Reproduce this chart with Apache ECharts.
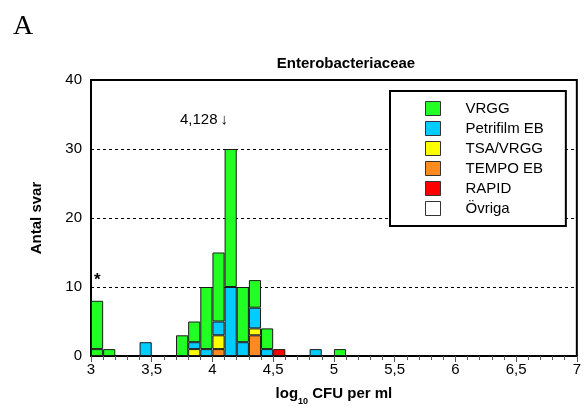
<!DOCTYPE html>
<html>
<head>
<meta charset="utf-8">
<script src="https://cdn.jsdelivr.net/npm/echarts@6/dist/echarts.min.js"></script>
<style>
  html, body { margin: 0; padding: 0; background: #fff; }
  #chart { width: 584px; height: 414px; }
</style>
</head>
<body>
<div id="chart"></div>
<script>
// bins of 0.1 log10 CFU, start value of each bin
const bins = [
  '3.0', '3.1', '3.2', '3.3', '3.4', '3.5', '3.6', '3.7', '3.8', '3.9',
  '4.0', '4.1', '4.2', '4.3', '4.4', '4.5', '4.6', '4.7', '4.8', '4.9',
  '5.0', '5.1', '5.2', '5.3', '5.4', '5.5', '5.6', '5.7', '5.8', '5.9',
  '6.0', '6.1', '6.2', '6.3', '6.4', '6.5', '6.6', '6.7', '6.8', '6.9'
];

// counts per bin (bins after 5.0 are empty)
const rapid     = [0, 0, 0, 0, 0, 0, 0, 0, 0, 0, 0, 0, 0, 0, 0, 1, 0, 0, 0, 0, 0];
const tempoEb   = [0, 0, 0, 0, 0, 0, 0, 0, 0, 0, 1, 0, 0, 3, 0, 0, 0, 0, 0, 0, 0];
const tsaVrgg   = [0, 0, 0, 0, 0, 0, 0, 0, 1, 0, 2, 0, 0, 1, 0, 0, 0, 0, 0, 0, 0];
const petrifilm = [0, 0, 0, 0, 2, 0, 0, 0, 1, 1, 2, 10, 2, 3, 1, 0, 0, 0, 1, 0, 0];
const vrgg      = [1, 1, 0, 0, 0, 0, 0, 3, 3, 9, 10, 20, 8, 4, 3, 0, 0, 0, 0, 0, 1];
const vrggLow   = [7];   // results below 3 (*), plotted in first bin
const ovriga    = [];

const yTicks = [0, 10, 20, 30, 40];
const peakNote = '4,128\u2009\u2193';

const font = 'Arial, "Liberation Sans", sans-serif';
const chart = echarts.init(document.getElementById('chart'));

const nz = arr => arr.map(v => (v ? v : null));

const barSeries = (name, data, color) => ({
  name,
  type: 'bar',
  stack: 'n',
  xAxisIndex: 0,
  barWidth: '100%',
  barGap: '0%',
  barCategoryGap: '0%',
  data: nz(data),
  itemStyle: { color, borderColor: '#1a1a1a', borderWidth: 1 },
  emphasis: { disabled: true }
});

chart.setOption({
  animation: false,
  textStyle: { fontFamily: font },
  title: {
    text: 'Enterobacteriaceae',
    left: 341,
    top: 51,
    textAlign: 'center',
    textStyle: { fontSize: 15, fontWeight: 'bold', color: '#000', fontFamily: font }
  },
  legend: {
    orient: 'vertical',
    left: 390,
    top: 91,
    data: ['VRGG', 'Petrifilm EB', 'TSA/VRGG', 'TEMPO EB', 'RAPID', 'Övriga'],
    icon: 'rect',
    itemWidth: 15,
    itemHeight: 14,
    itemGap: 5,
    padding: [10, 22, 10, 35],
    borderColor: '#000',
    borderWidth: 2,
    backgroundColor: '#fff',
    itemStyle: { borderColor: '#333', borderWidth: 1 },
    textStyle: { fontSize: 15, color: '#000', fontFamily: font, padding: [0, 0, 0, 20] },
    selectedMode: false
  },
  grid: {
    left: 91,
    right: 4,
    top: 80,
    bottom: 58,
    show: true,
    borderColor: '#000',
    borderWidth: 2
  },
  xAxis: [
    {
      type: 'category',
      data: bins,
      show: false
    },
    {
      type: 'value',
      min: 3,
      max: 7,
      interval: 0.5,
      position: 'bottom',
      name: '{b|log}{s|10}{b| CFU per ml}',
      nameLocation: 'middle',
      nameGap: 25,
      nameTextStyle: {
        rich: {
          b: { fontSize: 15, fontWeight: 'bold', color: '#000', fontFamily: font, lineHeight: 20, verticalAlign: 'bottom' },
          s: { fontSize: 9, fontWeight: 'bold', color: '#000', fontFamily: font, lineHeight: 20, verticalAlign: 'bottom', padding: [0, 0, -5, 0] }
        }
      },
      axisLine: { lineStyle: { color: '#000', width: 2 } },
      axisTick: { show: true, length: 6, lineStyle: { color: '#555' } },
      minorTick: { show: true, splitNumber: 5, length: 4, lineStyle: { color: '#555' } },
      splitLine: { show: false },
      axisLabel: {
        fontSize: 15,
        color: '#000',
        margin: 6,
        formatter: v => String(v).replace('.', ',')
      }
    }
  ],
  yAxis: {
    type: 'value',
    min: yTicks[0],
    max: yTicks[yTicks.length - 1],
    interval: 10,
    name: 'Antal svar',
    nameLocation: 'middle',
    nameGap: 47,
    nameTextStyle: { fontSize: 15, fontWeight: 'bold', color: '#000', fontFamily: font },
    axisLine: { show: true, lineStyle: { color: '#000', width: 2 } },
    axisTick: { show: false },
    axisLabel: { fontSize: 15, color: '#000', margin: 9 },
    splitLine: { show: true, lineStyle: { color: '#000', type: [3, 3], width: 1 } }
  },
  graphic: [
    { type: 'text', left: 13, top: 13, style: { text: 'A', fontSize: 28, fontFamily: '"Liberation Serif", "Times New Roman", serif', fill: '#000' } },
    { type: 'text', left: 180, top: 112, style: { text: peakNote, fontSize: 15, fontFamily: font, fill: '#000' } },
    { type: 'text', left: 94, top: 272, style: { text: '*', fontSize: 17, fontWeight: 'bold', fontFamily: font, fill: '#000' } }
  ],
  series: [
    barSeries('RAPID', rapid, '#ff0000'),
    barSeries('TEMPO EB', tempoEb, '#ff8a1e'),
    barSeries('TSA/VRGG', tsaVrgg, '#ffff00'),
    barSeries('Petrifilm EB', petrifilm, '#00ccff'),
    barSeries('VRGG', vrgg, '#22ff22'),
    barSeries('VRGG', vrggLow, '#22ff22'),
    barSeries('Övriga', ovriga, '#ffffff')
  ]
});
</script>
</body>
</html>
